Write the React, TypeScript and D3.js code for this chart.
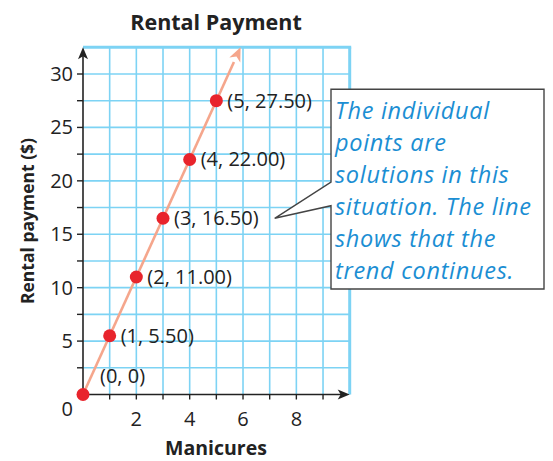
import React from 'react';
import * as d3 from 'd3';

const manicures = [0, 1, 2, 3, 4, 5];
const payments = [0, 5.5, 11, 16.5, 22, 27.5];
const pointLabels = ['(0, 0)', '(1, 5.50)', '(2, 11.00)', '(3, 16.50)', '(4, 22.00)', '(5, 27.50)'];
const xTickLabels = [2, 4, 6, 8];
const yTickLabels = [5, 10, 15, 20, 25, 30];
const noteLines = ['The individual', 'points are', 'solutions in this', 'situation. The line', 'shows that the', 'trend continues.'];

const W = 553;
const H = 461;
const font = 'Open Sans, Noto Sans, sans-serif';
const gridBlue = '#7dd3f4';
const salmon = '#f5a68c';

const App = () => {
  const x = d3.scaleLinear().domain([0, 10]).range([83, 349.7]);
  const y = d3.scaleLinear().domain([0, 32.5]).range([394.5, 47.3]);

  const xGrid = d3.range(1, 10);
  const yGrid = d3.range(2.5, 32.5, 2.5);
  const slope = payments[1] / manicures[1];
  const xEnd = y.domain()[1] / slope;
  const line = d3.line<[number, number]>().x(d => x(d[0])).y(d => y(d[1]));

  // arrowhead for the trend line
  const x0 = x(0), y0 = y(0), x1 = x(xEnd), y1 = y(y.domain()[1]);
  const ang = Math.atan2(y1 - y0, x1 - x0);
  const ah = 14, aw = 6;
  const bx = x1 - ah * Math.cos(ang), by = y1 - ah * Math.sin(ang);
  const trendHead = `M${x1},${y1} L${bx + aw * Math.sin(ang)},${by - aw * Math.cos(ang)} L${bx + 4 * Math.cos(ang)},${by + 4 * Math.sin(ang)} L${bx - aw * Math.sin(ang)},${by + aw * Math.cos(ang)} Z`;

  const axisRight = x.range()[1];
  const axisTop = y.range()[1];

  return (
    <svg width={W} height={H} style={{ position: 'absolute', left: 0, top: 0, background: '#fff' }}>
      {/* grid */}
      {xGrid.map(v => (
        <line key={'gx' + v} x1={x(v)} x2={x(v)} y1={y(0)} y2={axisTop} stroke={gridBlue} strokeWidth={1.6} />
      ))}
      {yGrid.map(v => (
        <line key={'gy' + v} x1={x(0)} x2={axisRight} y1={y(v)} y2={y(v)} stroke={gridBlue} strokeWidth={1.6} />
      ))}
      <line x1={x(0)} x2={axisRight + 1.5} y1={axisTop} y2={axisTop} stroke={gridBlue} strokeWidth={3} />
      <line x1={axisRight} x2={axisRight} y1={axisTop} y2={y(0)} stroke={gridBlue} strokeWidth={3} />

      {/* axes */}
      <line x1={x(0)} x2={axisRight - 8} y1={y(0)} y2={y(0)} stroke="#222" strokeWidth={1.6} />
      <path d={`M${axisRight},${y(0)} l-12,-5 l3,5 l-3,5 Z`} fill="#222" />
      <line x1={x(0)} x2={x(0)} y1={y(0)} y2={axisTop + 8} stroke="#222" strokeWidth={1.6} />
      <path d={`M${x(0)},${axisTop} l-5,12 l5,-3 l5,3 Z`} fill="#222" />
      {xGrid.map(v => (
        <line key={'tx' + v} x1={x(v)} x2={x(v)} y1={y(0)} y2={y(0) + 5} stroke="#222" strokeWidth={1.4} />
      ))}
      {yGrid.map(v => (
        <line key={'ty' + v} x1={x(0) - 6} x2={x(0)} y1={y(v)} y2={y(v)} stroke="#222" strokeWidth={1.4} />
      ))}
      {xTickLabels.map(v => (
        <text key={'lx' + v} x={x(v)} y={y(0) + 31} textAnchor="middle" fontFamily={font} fontSize={20} fill="#222">{v}</text>
      ))}
      {yTickLabels.map(v => (
        <text key={'ly' + v} x={x(0) - 10} y={y(v) + 7} textAnchor="end" fontFamily={font} fontSize={20} fill="#222">{v}</text>
      ))}
      <text x={x(0) - 10} y={y(0) + 21} textAnchor="end" fontFamily={font} fontSize={20} fill="#222">0</text>

      {/* titles */}
      <text x={216} y={30} textAnchor="middle" fontFamily={font} fontWeight="bold" fontSize={21.5} fill="#222">Rental Payment</text>
      <text x={216} y={455} textAnchor="middle" fontFamily={font} fontWeight="bold" fontSize={19.5} fill="#222">Manicures</text>
      <text transform={`translate(34,221) rotate(-90)`} textAnchor="middle" fontFamily={font} fontWeight="bold" fontSize={17.5} fill="#222">Rental payment ($)</text>

      {/* trend line */}
      <path d={line([[0, 0], [xEnd - 0.25, y.domain()[1] - 0.25 * slope]]) || ''} stroke={salmon} strokeWidth={2.6} fill="none" />
      <path d={trendHead} fill={salmon} />

      {/* points */}
      {manicures.map((m, i) => (
        <circle key={'p' + i} cx={x(m)} cy={y(payments[i])} r={6.5} fill="#e8242c" />
      ))}
      {manicures.map((m, i) => (
        i === 0 ? (
          <text key={'t' + i} x={x(m) + 17} y={y(payments[i]) - 12} fontFamily={font} fontSize={20} fill="#222">{pointLabels[i]}</text>
        ) : (
          <text key={'t' + i} x={x(m) + 11} y={y(payments[i]) + 7} fontFamily={font} fontSize={20} fill="#222">{pointLabels[i]}</text>
        )
      ))}

      {/* callout */}
      <path d="M331,89.3 L544,89.3 L544,289 L331,289 L331,205.7 L274.7,218.3 L331,182 Z" fill="#fff" stroke="#444" strokeWidth={1.4} />
      {noteLines.map((s, i) => (
        <text key={'n' + i} x={335} y={119 + i * 32} fontFamily={font} fontStyle="italic" fontSize={23.5} letterSpacing={0.7} fill="#1b8ed3">{s}</text>
      ))}
    </svg>
  );
};

export default App;
